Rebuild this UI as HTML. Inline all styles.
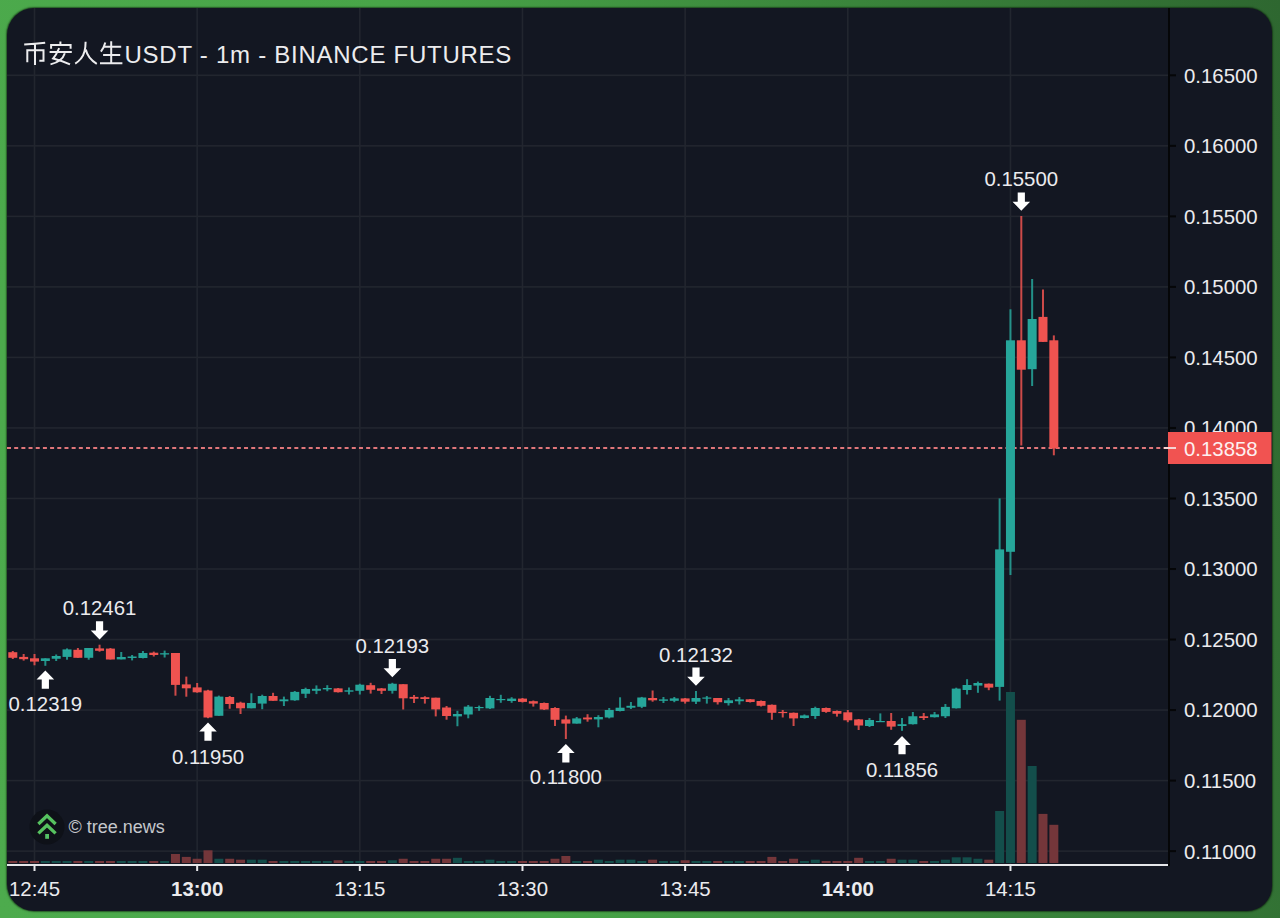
<!DOCTYPE html>
<html><head><meta charset="utf-8"><style>
html,body{margin:0;padding:0;width:1280px;height:918px;overflow:hidden;}
body{background:linear-gradient(80deg,#4dab4d 0%,#48a548 38%,#3b873c 68%,#2e6730 100%);position:relative;}
.panel{position:absolute;left:7px;top:7.5px;width:1265.3px;height:903px;border-radius:27px 24px 25px 27px;box-shadow:0 0 1.5px 1px rgba(5,20,5,0.55);overflow:hidden;background:#131722;}
svg{position:absolute;left:-7px;top:-7.5px;}
.lab{font-family:"Liberation Sans",sans-serif;font-size:20.4px;fill:#ebebee;}
.title{font-family:"Liberation Sans",sans-serif;font-size:24px;fill:#ececee;letter-spacing:0.74px;}
.logo{font-family:"Liberation Sans",sans-serif;font-size:18px;fill:#c5c7cc;}
</style></head><body>
<div class="panel"><svg width="1280" height="918" viewBox="0 0 1280 918">
<rect x="7" y="74.50" width="1161" height="1.6" fill="#22262f"/>
<rect x="7" y="145.03" width="1161" height="1.6" fill="#22262f"/>
<rect x="7" y="215.56" width="1161" height="1.6" fill="#22262f"/>
<rect x="7" y="286.09" width="1161" height="1.6" fill="#22262f"/>
<rect x="7" y="356.62" width="1161" height="1.6" fill="#22262f"/>
<rect x="7" y="427.15" width="1161" height="1.6" fill="#22262f"/>
<rect x="7" y="497.68" width="1161" height="1.6" fill="#22262f"/>
<rect x="7" y="568.21" width="1161" height="1.6" fill="#22262f"/>
<rect x="7" y="638.74" width="1161" height="1.6" fill="#22262f"/>
<rect x="7" y="709.27" width="1161" height="1.6" fill="#22262f"/>
<rect x="7" y="779.80" width="1161" height="1.6" fill="#22262f"/>
<rect x="7" y="850.33" width="1161" height="1.6" fill="#22262f"/>
<rect x="33.70" y="7" width="1.6" height="857" fill="#22262f"/>
<rect x="196.36" y="7" width="1.6" height="857" fill="#22262f"/>
<rect x="359.02" y="7" width="1.6" height="857" fill="#22262f"/>
<rect x="521.68" y="7" width="1.6" height="857" fill="#22262f"/>
<rect x="684.34" y="7" width="1.6" height="857" fill="#22262f"/>
<rect x="847.00" y="7" width="1.6" height="857" fill="#22262f"/>
<rect x="1009.66" y="7" width="1.6" height="857" fill="#22262f"/>
<rect x="8.31" y="861.00" width="9.0" height="2.00" fill="#74363a"/>
<rect x="19.16" y="861.00" width="9.0" height="2.00" fill="#74363a"/>
<rect x="30.00" y="861.00" width="9.0" height="2.00" fill="#74363a"/>
<rect x="40.84" y="861.00" width="9.0" height="2.00" fill="#134e4b"/>
<rect x="51.69" y="861.00" width="9.0" height="2.00" fill="#134e4b"/>
<rect x="62.53" y="861.00" width="9.0" height="2.00" fill="#134e4b"/>
<rect x="73.38" y="861.00" width="9.0" height="2.00" fill="#74363a"/>
<rect x="84.22" y="861.00" width="9.0" height="2.00" fill="#134e4b"/>
<rect x="95.06" y="861.00" width="9.0" height="2.00" fill="#74363a"/>
<rect x="105.91" y="861.00" width="9.0" height="2.00" fill="#74363a"/>
<rect x="116.75" y="861.00" width="9.0" height="2.00" fill="#134e4b"/>
<rect x="127.60" y="861.00" width="9.0" height="2.00" fill="#134e4b"/>
<rect x="138.44" y="861.00" width="9.0" height="2.00" fill="#134e4b"/>
<rect x="149.28" y="861.00" width="9.0" height="2.00" fill="#74363a"/>
<rect x="160.13" y="861.00" width="9.0" height="2.00" fill="#134e4b"/>
<rect x="170.97" y="854.00" width="9.0" height="9.00" fill="#74363a"/>
<rect x="181.82" y="856.90" width="9.0" height="6.10" fill="#74363a"/>
<rect x="192.66" y="858.75" width="9.0" height="4.25" fill="#74363a"/>
<rect x="203.50" y="850.30" width="9.0" height="12.70" fill="#74363a"/>
<rect x="214.35" y="858.75" width="9.0" height="4.25" fill="#134e4b"/>
<rect x="225.19" y="858.75" width="9.0" height="4.25" fill="#74363a"/>
<rect x="236.04" y="859.70" width="9.0" height="3.30" fill="#74363a"/>
<rect x="246.88" y="859.70" width="9.0" height="3.30" fill="#134e4b"/>
<rect x="257.72" y="859.70" width="9.0" height="3.30" fill="#134e4b"/>
<rect x="268.57" y="861.00" width="9.0" height="2.00" fill="#74363a"/>
<rect x="279.41" y="861.00" width="9.0" height="2.00" fill="#134e4b"/>
<rect x="290.26" y="861.00" width="9.0" height="2.00" fill="#134e4b"/>
<rect x="301.10" y="861.00" width="9.0" height="2.00" fill="#134e4b"/>
<rect x="311.94" y="861.00" width="9.0" height="2.00" fill="#134e4b"/>
<rect x="322.79" y="861.00" width="9.0" height="2.00" fill="#134e4b"/>
<rect x="333.63" y="860.25" width="9.0" height="2.75" fill="#74363a"/>
<rect x="344.48" y="861.00" width="9.0" height="2.00" fill="#134e4b"/>
<rect x="355.32" y="861.00" width="9.0" height="2.00" fill="#134e4b"/>
<rect x="366.16" y="861.00" width="9.0" height="2.00" fill="#74363a"/>
<rect x="377.01" y="861.00" width="9.0" height="2.00" fill="#74363a"/>
<rect x="387.85" y="860.25" width="9.0" height="2.75" fill="#134e4b"/>
<rect x="398.70" y="858.75" width="9.0" height="4.25" fill="#74363a"/>
<rect x="409.54" y="861.00" width="9.0" height="2.00" fill="#74363a"/>
<rect x="420.38" y="861.00" width="9.0" height="2.00" fill="#74363a"/>
<rect x="431.23" y="858.75" width="9.0" height="4.25" fill="#74363a"/>
<rect x="442.07" y="858.75" width="9.0" height="4.25" fill="#74363a"/>
<rect x="452.92" y="857.80" width="9.0" height="5.20" fill="#134e4b"/>
<rect x="463.76" y="861.00" width="9.0" height="2.00" fill="#134e4b"/>
<rect x="474.60" y="861.00" width="9.0" height="2.00" fill="#134e4b"/>
<rect x="485.45" y="859.70" width="9.0" height="3.30" fill="#134e4b"/>
<rect x="496.29" y="861.00" width="9.0" height="2.00" fill="#134e4b"/>
<rect x="507.14" y="861.00" width="9.0" height="2.00" fill="#134e4b"/>
<rect x="517.98" y="861.00" width="9.0" height="2.00" fill="#74363a"/>
<rect x="528.82" y="861.00" width="9.0" height="2.00" fill="#74363a"/>
<rect x="539.67" y="861.00" width="9.0" height="2.00" fill="#74363a"/>
<rect x="550.51" y="858.75" width="9.0" height="4.25" fill="#74363a"/>
<rect x="561.36" y="856.00" width="9.0" height="7.00" fill="#74363a"/>
<rect x="572.20" y="861.00" width="9.0" height="2.00" fill="#134e4b"/>
<rect x="583.04" y="861.00" width="9.0" height="2.00" fill="#74363a"/>
<rect x="593.89" y="859.70" width="9.0" height="3.30" fill="#134e4b"/>
<rect x="604.73" y="861.00" width="9.0" height="2.00" fill="#134e4b"/>
<rect x="615.58" y="859.70" width="9.0" height="3.30" fill="#134e4b"/>
<rect x="626.42" y="859.70" width="9.0" height="3.30" fill="#134e4b"/>
<rect x="637.26" y="861.00" width="9.0" height="2.00" fill="#134e4b"/>
<rect x="648.11" y="859.70" width="9.0" height="3.30" fill="#74363a"/>
<rect x="658.95" y="861.00" width="9.0" height="2.00" fill="#134e4b"/>
<rect x="669.80" y="861.00" width="9.0" height="2.00" fill="#134e4b"/>
<rect x="680.64" y="860.25" width="9.0" height="2.75" fill="#74363a"/>
<rect x="691.48" y="861.00" width="9.0" height="2.00" fill="#134e4b"/>
<rect x="702.33" y="861.00" width="9.0" height="2.00" fill="#134e4b"/>
<rect x="713.17" y="861.00" width="9.0" height="2.00" fill="#74363a"/>
<rect x="724.02" y="861.00" width="9.0" height="2.00" fill="#134e4b"/>
<rect x="734.86" y="861.00" width="9.0" height="2.00" fill="#134e4b"/>
<rect x="745.70" y="861.00" width="9.0" height="2.00" fill="#74363a"/>
<rect x="756.55" y="861.00" width="9.0" height="2.00" fill="#74363a"/>
<rect x="767.39" y="856.90" width="9.0" height="6.10" fill="#74363a"/>
<rect x="778.24" y="861.00" width="9.0" height="2.00" fill="#74363a"/>
<rect x="789.08" y="858.75" width="9.0" height="4.25" fill="#74363a"/>
<rect x="799.92" y="861.00" width="9.0" height="2.00" fill="#134e4b"/>
<rect x="810.77" y="859.70" width="9.0" height="3.30" fill="#134e4b"/>
<rect x="821.61" y="861.00" width="9.0" height="2.00" fill="#74363a"/>
<rect x="832.46" y="861.00" width="9.0" height="2.00" fill="#74363a"/>
<rect x="843.30" y="861.00" width="9.0" height="2.00" fill="#74363a"/>
<rect x="854.14" y="857.80" width="9.0" height="5.20" fill="#74363a"/>
<rect x="864.99" y="861.00" width="9.0" height="2.00" fill="#134e4b"/>
<rect x="875.83" y="861.00" width="9.0" height="2.00" fill="#134e4b"/>
<rect x="886.68" y="858.75" width="9.0" height="4.25" fill="#74363a"/>
<rect x="897.52" y="859.70" width="9.0" height="3.30" fill="#134e4b"/>
<rect x="908.36" y="859.70" width="9.0" height="3.30" fill="#134e4b"/>
<rect x="919.21" y="861.00" width="9.0" height="2.00" fill="#74363a"/>
<rect x="930.05" y="861.00" width="9.0" height="2.00" fill="#134e4b"/>
<rect x="940.90" y="859.70" width="9.0" height="3.30" fill="#134e4b"/>
<rect x="951.74" y="857.30" width="9.0" height="5.70" fill="#134e4b"/>
<rect x="962.58" y="857.30" width="9.0" height="5.70" fill="#134e4b"/>
<rect x="973.43" y="858.75" width="9.0" height="4.25" fill="#134e4b"/>
<rect x="984.27" y="859.70" width="9.0" height="3.30" fill="#74363a"/>
<rect x="995.12" y="811.00" width="9.0" height="52.00" fill="#134e4b"/>
<rect x="1005.96" y="692.00" width="9.0" height="171.00" fill="#134e4b"/>
<rect x="1016.80" y="719.80" width="9.0" height="143.20" fill="#74363a"/>
<rect x="1027.65" y="766.00" width="9.0" height="97.00" fill="#134e4b"/>
<rect x="1038.49" y="813.90" width="9.0" height="49.10" fill="#74363a"/>
<rect x="1049.34" y="824.80" width="9.0" height="38.20" fill="#74363a"/>
<line x1="7" y1="448" x2="1164" y2="448" stroke="#e0767a" stroke-width="2" stroke-dasharray="4 3.183"/>
<rect x="11.81" y="651.00" width="2.0" height="8.00" fill="#ef5350" fill-opacity="0.85"/>
<rect x="8.31" y="652.20" width="9.0" height="5.60" fill="#ef5350"/>
<rect x="22.66" y="654.00" width="2.0" height="6.60" fill="#ef5350" fill-opacity="0.85"/>
<rect x="19.16" y="656.90" width="9.0" height="2.30" fill="#ef5350"/>
<rect x="33.50" y="654.00" width="2.0" height="11.30" fill="#ef5350" fill-opacity="0.85"/>
<rect x="30.00" y="658.30" width="9.0" height="3.30" fill="#ef5350"/>
<rect x="44.34" y="658.30" width="2.0" height="7.50" fill="#26a69a" fill-opacity="0.85"/>
<rect x="40.84" y="658.30" width="9.0" height="2.70" fill="#26a69a"/>
<rect x="55.19" y="654.50" width="2.0" height="6.50" fill="#26a69a" fill-opacity="0.85"/>
<rect x="51.69" y="656.00" width="9.0" height="2.75" fill="#26a69a"/>
<rect x="66.03" y="648.40" width="2.0" height="11.30" fill="#26a69a" fill-opacity="0.85"/>
<rect x="62.53" y="649.40" width="9.0" height="7.50" fill="#26a69a"/>
<rect x="76.88" y="648.00" width="2.0" height="9.80" fill="#ef5350" fill-opacity="0.85"/>
<rect x="73.38" y="649.80" width="9.0" height="8.00" fill="#ef5350"/>
<rect x="87.72" y="648.00" width="2.0" height="11.70" fill="#26a69a" fill-opacity="0.85"/>
<rect x="84.22" y="648.00" width="9.0" height="9.80" fill="#26a69a"/>
<rect x="98.56" y="644.70" width="2.0" height="7.00" fill="#ef5350" fill-opacity="0.85"/>
<rect x="95.06" y="648.40" width="9.0" height="2.40" fill="#ef5350"/>
<rect x="109.41" y="648.00" width="2.0" height="11.50" fill="#ef5350" fill-opacity="0.85"/>
<rect x="105.91" y="648.60" width="9.0" height="10.90" fill="#ef5350"/>
<rect x="120.25" y="652.00" width="2.0" height="7.40" fill="#26a69a" fill-opacity="0.85"/>
<rect x="116.75" y="657.00" width="9.0" height="2.40" fill="#26a69a"/>
<rect x="131.10" y="655.00" width="2.0" height="5.40" fill="#26a69a" fill-opacity="0.85"/>
<rect x="127.60" y="656.50" width="9.0" height="1.50" fill="#26a69a"/>
<rect x="141.94" y="651.00" width="2.0" height="7.40" fill="#26a69a" fill-opacity="0.85"/>
<rect x="138.44" y="653.00" width="9.0" height="5.00" fill="#26a69a"/>
<rect x="152.78" y="651.60" width="2.0" height="4.90" fill="#ef5350" fill-opacity="0.85"/>
<rect x="149.28" y="652.70" width="9.0" height="2.30" fill="#ef5350"/>
<rect x="163.63" y="650.60" width="2.0" height="6.90" fill="#26a69a" fill-opacity="0.85"/>
<rect x="160.13" y="653.20" width="9.0" height="1.30" fill="#26a69a"/>
<rect x="174.47" y="653.00" width="2.0" height="42.70" fill="#ef5350" fill-opacity="0.85"/>
<rect x="170.97" y="653.00" width="9.0" height="31.90" fill="#ef5350"/>
<rect x="185.32" y="676.60" width="2.0" height="20.10" fill="#ef5350" fill-opacity="0.85"/>
<rect x="181.82" y="684.40" width="9.0" height="3.90" fill="#ef5350"/>
<rect x="196.16" y="683.00" width="2.0" height="9.70" fill="#ef5350" fill-opacity="0.85"/>
<rect x="192.66" y="687.40" width="9.0" height="4.90" fill="#ef5350"/>
<rect x="207.00" y="689.80" width="2.0" height="28.40" fill="#ef5350" fill-opacity="0.85"/>
<rect x="203.50" y="690.50" width="9.0" height="27.00" fill="#ef5350"/>
<rect x="217.85" y="695.60" width="2.0" height="20.20" fill="#26a69a" fill-opacity="0.85"/>
<rect x="214.35" y="696.60" width="9.0" height="19.20" fill="#26a69a"/>
<rect x="228.69" y="696.00" width="2.0" height="12.75" fill="#ef5350" fill-opacity="0.85"/>
<rect x="225.19" y="697.00" width="9.0" height="7.00" fill="#ef5350"/>
<rect x="239.54" y="701.70" width="2.0" height="12.30" fill="#ef5350" fill-opacity="0.85"/>
<rect x="236.04" y="702.70" width="9.0" height="5.60" fill="#ef5350"/>
<rect x="250.38" y="693.30" width="2.0" height="15.00" fill="#26a69a" fill-opacity="0.85"/>
<rect x="246.88" y="703.00" width="9.0" height="5.30" fill="#26a69a"/>
<rect x="261.22" y="694.70" width="2.0" height="14.50" fill="#26a69a" fill-opacity="0.85"/>
<rect x="257.72" y="696.00" width="9.0" height="7.60" fill="#26a69a"/>
<rect x="272.07" y="692.80" width="2.0" height="8.00" fill="#ef5350" fill-opacity="0.85"/>
<rect x="268.57" y="696.00" width="9.0" height="4.80" fill="#ef5350"/>
<rect x="282.91" y="696.60" width="2.0" height="9.40" fill="#26a69a" fill-opacity="0.85"/>
<rect x="279.41" y="699.40" width="9.0" height="1.85" fill="#26a69a"/>
<rect x="293.76" y="691.00" width="2.0" height="9.80" fill="#26a69a" fill-opacity="0.85"/>
<rect x="290.26" y="691.90" width="9.0" height="8.40" fill="#26a69a"/>
<rect x="304.60" y="687.70" width="2.0" height="10.30" fill="#26a69a" fill-opacity="0.85"/>
<rect x="301.10" y="689.00" width="9.0" height="4.75" fill="#26a69a"/>
<rect x="315.44" y="685.40" width="2.0" height="8.70" fill="#26a69a" fill-opacity="0.85"/>
<rect x="311.94" y="688.80" width="9.0" height="2.00" fill="#26a69a"/>
<rect x="326.29" y="685.20" width="2.0" height="6.05" fill="#26a69a" fill-opacity="0.85"/>
<rect x="322.79" y="688.00" width="9.0" height="1.40" fill="#26a69a"/>
<rect x="337.13" y="688.00" width="2.0" height="4.50" fill="#ef5350" fill-opacity="0.85"/>
<rect x="333.63" y="688.40" width="9.0" height="3.80" fill="#ef5350"/>
<rect x="347.98" y="687.50" width="2.0" height="7.00" fill="#26a69a" fill-opacity="0.85"/>
<rect x="344.48" y="690.30" width="9.0" height="1.40" fill="#26a69a"/>
<rect x="358.82" y="683.75" width="2.0" height="10.75" fill="#26a69a" fill-opacity="0.85"/>
<rect x="355.32" y="684.70" width="9.0" height="6.10" fill="#26a69a"/>
<rect x="369.66" y="682.80" width="2.0" height="10.80" fill="#ef5350" fill-opacity="0.85"/>
<rect x="366.16" y="685.20" width="9.0" height="4.60" fill="#ef5350"/>
<rect x="380.51" y="688.00" width="2.0" height="6.00" fill="#ef5350" fill-opacity="0.85"/>
<rect x="377.01" y="688.40" width="9.0" height="2.40" fill="#ef5350"/>
<rect x="391.35" y="682.80" width="2.0" height="10.80" fill="#26a69a" fill-opacity="0.85"/>
<rect x="387.85" y="683.75" width="9.0" height="7.05" fill="#26a69a"/>
<rect x="402.20" y="684.20" width="2.0" height="25.30" fill="#ef5350" fill-opacity="0.85"/>
<rect x="398.70" y="684.20" width="9.0" height="14.10" fill="#ef5350"/>
<rect x="413.04" y="695.00" width="2.0" height="8.00" fill="#ef5350" fill-opacity="0.85"/>
<rect x="409.54" y="696.90" width="9.0" height="1.85" fill="#ef5350"/>
<rect x="423.88" y="696.25" width="2.0" height="7.35" fill="#ef5350" fill-opacity="0.85"/>
<rect x="420.38" y="697.20" width="9.0" height="1.80" fill="#ef5350"/>
<rect x="434.73" y="697.70" width="2.0" height="18.70" fill="#ef5350" fill-opacity="0.85"/>
<rect x="431.23" y="697.70" width="9.0" height="11.70" fill="#ef5350"/>
<rect x="445.57" y="706.00" width="2.0" height="13.70" fill="#ef5350" fill-opacity="0.85"/>
<rect x="442.07" y="707.50" width="9.0" height="8.50" fill="#ef5350"/>
<rect x="456.42" y="710.80" width="2.0" height="15.45" fill="#26a69a" fill-opacity="0.85"/>
<rect x="452.92" y="714.00" width="9.0" height="2.40" fill="#26a69a"/>
<rect x="467.26" y="705.00" width="2.0" height="13.30" fill="#26a69a" fill-opacity="0.85"/>
<rect x="463.76" y="706.60" width="9.0" height="7.90" fill="#26a69a"/>
<rect x="478.10" y="705.60" width="2.0" height="5.20" fill="#26a69a" fill-opacity="0.85"/>
<rect x="474.60" y="707.00" width="9.0" height="1.20" fill="#26a69a"/>
<rect x="488.95" y="695.80" width="2.0" height="13.20" fill="#26a69a" fill-opacity="0.85"/>
<rect x="485.45" y="698.00" width="9.0" height="10.40" fill="#26a69a"/>
<rect x="499.79" y="694.80" width="2.0" height="8.00" fill="#26a69a" fill-opacity="0.85"/>
<rect x="496.29" y="699.00" width="9.0" height="1.20" fill="#26a69a"/>
<rect x="510.64" y="697.20" width="2.0" height="5.60" fill="#26a69a" fill-opacity="0.85"/>
<rect x="507.14" y="698.60" width="9.0" height="2.40" fill="#26a69a"/>
<rect x="521.48" y="698.00" width="2.0" height="4.50" fill="#ef5350" fill-opacity="0.85"/>
<rect x="517.98" y="698.60" width="9.0" height="3.30" fill="#ef5350"/>
<rect x="532.32" y="700.50" width="2.0" height="6.10" fill="#ef5350" fill-opacity="0.85"/>
<rect x="528.82" y="701.20" width="9.0" height="2.40" fill="#ef5350"/>
<rect x="543.17" y="702.50" width="2.0" height="7.50" fill="#ef5350" fill-opacity="0.85"/>
<rect x="539.67" y="703.00" width="9.0" height="6.50" fill="#ef5350"/>
<rect x="554.01" y="707.20" width="2.0" height="18.80" fill="#ef5350" fill-opacity="0.85"/>
<rect x="550.51" y="708.00" width="9.0" height="11.80" fill="#ef5350"/>
<rect x="564.86" y="715.60" width="2.0" height="23.40" fill="#ef5350" fill-opacity="0.85"/>
<rect x="561.36" y="719.40" width="9.0" height="4.20" fill="#ef5350"/>
<rect x="575.70" y="717.00" width="2.0" height="6.60" fill="#26a69a" fill-opacity="0.85"/>
<rect x="572.20" y="718.40" width="9.0" height="5.20" fill="#26a69a"/>
<rect x="586.54" y="714.20" width="2.0" height="7.50" fill="#ef5350" fill-opacity="0.85"/>
<rect x="583.04" y="717.50" width="9.0" height="1.90" fill="#ef5350"/>
<rect x="597.39" y="715.20" width="2.0" height="12.10" fill="#26a69a" fill-opacity="0.85"/>
<rect x="593.89" y="717.00" width="9.0" height="2.40" fill="#26a69a"/>
<rect x="608.23" y="708.00" width="2.0" height="10.40" fill="#26a69a" fill-opacity="0.85"/>
<rect x="604.73" y="710.00" width="9.0" height="7.50" fill="#26a69a"/>
<rect x="619.08" y="697.30" width="2.0" height="14.10" fill="#26a69a" fill-opacity="0.85"/>
<rect x="615.58" y="707.70" width="9.0" height="3.30" fill="#26a69a"/>
<rect x="629.92" y="702.00" width="2.0" height="7.00" fill="#26a69a" fill-opacity="0.85"/>
<rect x="626.42" y="705.80" width="9.0" height="1.90" fill="#26a69a"/>
<rect x="640.76" y="696.90" width="2.0" height="11.20" fill="#26a69a" fill-opacity="0.85"/>
<rect x="637.26" y="697.50" width="9.0" height="9.30" fill="#26a69a"/>
<rect x="651.61" y="690.50" width="2.0" height="11.20" fill="#ef5350" fill-opacity="0.85"/>
<rect x="648.11" y="698.00" width="9.0" height="2.30" fill="#ef5350"/>
<rect x="662.45" y="697.00" width="2.0" height="6.00" fill="#26a69a" fill-opacity="0.85"/>
<rect x="658.95" y="699.40" width="9.0" height="1.40" fill="#26a69a"/>
<rect x="673.30" y="697.00" width="2.0" height="5.20" fill="#26a69a" fill-opacity="0.85"/>
<rect x="669.80" y="698.40" width="9.0" height="2.40" fill="#26a69a"/>
<rect x="684.14" y="698.00" width="2.0" height="5.60" fill="#ef5350" fill-opacity="0.85"/>
<rect x="680.64" y="698.40" width="9.0" height="3.30" fill="#ef5350"/>
<rect x="694.98" y="691.00" width="2.0" height="13.00" fill="#26a69a" fill-opacity="0.85"/>
<rect x="691.48" y="698.00" width="9.0" height="3.70" fill="#26a69a"/>
<rect x="705.83" y="696.00" width="2.0" height="7.60" fill="#26a69a" fill-opacity="0.85"/>
<rect x="702.33" y="697.50" width="9.0" height="1.20" fill="#26a69a"/>
<rect x="716.67" y="698.00" width="2.0" height="6.50" fill="#ef5350" fill-opacity="0.85"/>
<rect x="713.17" y="698.00" width="9.0" height="4.20" fill="#ef5350"/>
<rect x="727.52" y="698.00" width="2.0" height="7.50" fill="#26a69a" fill-opacity="0.85"/>
<rect x="724.02" y="700.30" width="9.0" height="2.80" fill="#26a69a"/>
<rect x="738.36" y="697.00" width="2.0" height="7.50" fill="#26a69a" fill-opacity="0.85"/>
<rect x="734.86" y="699.40" width="9.0" height="1.85" fill="#26a69a"/>
<rect x="749.20" y="699.00" width="2.0" height="3.50" fill="#ef5350" fill-opacity="0.85"/>
<rect x="745.70" y="699.30" width="9.0" height="2.70" fill="#ef5350"/>
<rect x="760.05" y="700.50" width="2.0" height="6.00" fill="#ef5350" fill-opacity="0.85"/>
<rect x="756.55" y="701.00" width="9.0" height="4.80" fill="#ef5350"/>
<rect x="770.89" y="704.50" width="2.0" height="15.30" fill="#ef5350" fill-opacity="0.85"/>
<rect x="767.39" y="704.80" width="9.0" height="8.00" fill="#ef5350"/>
<rect x="781.74" y="710.00" width="2.0" height="7.50" fill="#ef5350" fill-opacity="0.85"/>
<rect x="778.24" y="711.90" width="9.0" height="1.20" fill="#ef5350"/>
<rect x="792.58" y="712.50" width="2.0" height="13.50" fill="#ef5350" fill-opacity="0.85"/>
<rect x="789.08" y="712.80" width="9.0" height="5.60" fill="#ef5350"/>
<rect x="803.42" y="714.50" width="2.0" height="4.00" fill="#26a69a" fill-opacity="0.85"/>
<rect x="799.92" y="715.40" width="9.0" height="2.60" fill="#26a69a"/>
<rect x="814.27" y="706.70" width="2.0" height="12.20" fill="#26a69a" fill-opacity="0.85"/>
<rect x="810.77" y="708.00" width="9.0" height="8.00" fill="#26a69a"/>
<rect x="825.11" y="707.50" width="2.0" height="5.30" fill="#ef5350" fill-opacity="0.85"/>
<rect x="821.61" y="708.00" width="9.0" height="3.90" fill="#ef5350"/>
<rect x="835.96" y="710.50" width="2.0" height="6.10" fill="#ef5350" fill-opacity="0.85"/>
<rect x="832.46" y="711.00" width="9.0" height="2.75" fill="#ef5350"/>
<rect x="846.80" y="710.00" width="2.0" height="12.20" fill="#ef5350" fill-opacity="0.85"/>
<rect x="843.30" y="712.30" width="9.0" height="8.00" fill="#ef5350"/>
<rect x="857.64" y="719.00" width="2.0" height="11.00" fill="#ef5350" fill-opacity="0.85"/>
<rect x="854.14" y="719.40" width="9.0" height="6.10" fill="#ef5350"/>
<rect x="868.49" y="718.00" width="2.0" height="9.00" fill="#26a69a" fill-opacity="0.85"/>
<rect x="864.99" y="720.00" width="9.0" height="6.00" fill="#26a69a"/>
<rect x="879.33" y="713.40" width="2.0" height="8.50" fill="#26a69a" fill-opacity="0.85"/>
<rect x="875.83" y="721.00" width="9.0" height="1.20" fill="#26a69a"/>
<rect x="890.18" y="713.00" width="2.0" height="16.80" fill="#ef5350" fill-opacity="0.85"/>
<rect x="886.68" y="721.00" width="9.0" height="5.60" fill="#ef5350"/>
<rect x="901.02" y="718.00" width="2.0" height="12.80" fill="#26a69a" fill-opacity="0.85"/>
<rect x="897.52" y="724.20" width="9.0" height="1.80" fill="#26a69a"/>
<rect x="911.86" y="712.00" width="2.0" height="12.50" fill="#26a69a" fill-opacity="0.85"/>
<rect x="908.36" y="716.25" width="9.0" height="7.95" fill="#26a69a"/>
<rect x="922.71" y="713.00" width="2.0" height="7.00" fill="#ef5350" fill-opacity="0.85"/>
<rect x="919.21" y="716.25" width="9.0" height="1.75" fill="#ef5350"/>
<rect x="933.55" y="712.00" width="2.0" height="5.50" fill="#26a69a" fill-opacity="0.85"/>
<rect x="930.05" y="714.40" width="9.0" height="2.80" fill="#26a69a"/>
<rect x="944.40" y="704.00" width="2.0" height="14.00" fill="#26a69a" fill-opacity="0.85"/>
<rect x="940.90" y="706.90" width="9.0" height="9.35" fill="#26a69a"/>
<rect x="955.24" y="687.70" width="2.0" height="20.80" fill="#26a69a" fill-opacity="0.85"/>
<rect x="951.74" y="688.60" width="9.0" height="19.70" fill="#26a69a"/>
<rect x="966.08" y="679.20" width="2.0" height="15.30" fill="#26a69a" fill-opacity="0.85"/>
<rect x="962.58" y="685.00" width="9.0" height="5.00" fill="#26a69a"/>
<rect x="976.93" y="681.60" width="2.0" height="11.20" fill="#26a69a" fill-opacity="0.85"/>
<rect x="973.43" y="683.00" width="9.0" height="2.60" fill="#26a69a"/>
<rect x="987.77" y="683.50" width="2.0" height="6.70" fill="#ef5350" fill-opacity="0.85"/>
<rect x="984.27" y="683.70" width="9.0" height="3.90" fill="#ef5350"/>
<rect x="998.62" y="498.40" width="2.0" height="202.20" fill="#26a69a" fill-opacity="0.85"/>
<rect x="995.12" y="549.40" width="9.0" height="137.50" fill="#26a69a"/>
<rect x="1009.46" y="309.30" width="2.0" height="265.70" fill="#26a69a" fill-opacity="0.85"/>
<rect x="1005.96" y="340.30" width="9.0" height="211.50" fill="#26a69a"/>
<rect x="1020.30" y="216.00" width="2.0" height="229.50" fill="#ef5350" fill-opacity="0.85"/>
<rect x="1016.80" y="340.30" width="9.0" height="29.40" fill="#ef5350"/>
<rect x="1031.15" y="279.00" width="2.0" height="107.00" fill="#26a69a" fill-opacity="0.85"/>
<rect x="1027.65" y="319.00" width="9.0" height="50.20" fill="#26a69a"/>
<rect x="1041.99" y="289.50" width="2.0" height="52.40" fill="#ef5350" fill-opacity="0.85"/>
<rect x="1038.49" y="316.90" width="9.0" height="25.00" fill="#ef5350"/>
<rect x="1052.84" y="335.40" width="2.0" height="119.90" fill="#ef5350" fill-opacity="0.85"/>
<rect x="1049.34" y="340.30" width="9.0" height="108.10" fill="#ef5350"/>
<rect x="7" y="864" width="1163" height="2" fill="#e6e7ea"/>
<rect x="1168" y="7" width="2" height="859" fill="#050608"/>
<rect x="33.50" y="866" width="2" height="5" fill="#e6e7ea"/>
<rect x="196.16" y="866" width="2" height="5" fill="#e6e7ea"/>
<rect x="358.82" y="866" width="2" height="5" fill="#e6e7ea"/>
<rect x="521.48" y="866" width="2" height="5" fill="#e6e7ea"/>
<rect x="684.14" y="866" width="2" height="5" fill="#e6e7ea"/>
<rect x="846.80" y="866" width="2" height="5" fill="#e6e7ea"/>
<rect x="1009.46" y="866" width="2" height="5" fill="#e6e7ea"/>
<rect x="1170" y="74.30" width="6" height="2" fill="#050608"/>
<rect x="1170" y="144.83" width="6" height="2" fill="#050608"/>
<rect x="1170" y="215.36" width="6" height="2" fill="#050608"/>
<rect x="1170" y="285.89" width="6" height="2" fill="#050608"/>
<rect x="1170" y="356.42" width="6" height="2" fill="#050608"/>
<rect x="1170" y="426.95" width="6" height="2" fill="#050608"/>
<rect x="1170" y="497.48" width="6" height="2" fill="#050608"/>
<rect x="1170" y="568.01" width="6" height="2" fill="#050608"/>
<rect x="1170" y="638.54" width="6" height="2" fill="#050608"/>
<rect x="1170" y="709.07" width="6" height="2" fill="#050608"/>
<rect x="1170" y="779.60" width="6" height="2" fill="#050608"/>
<rect x="1170" y="850.13" width="6" height="2" fill="#050608"/>
<path d="M95.96 621.30H103.16V630.60H108.36L99.56 639.60L90.76 630.60H95.96Z" fill="#ffffff"/>
<path d="M41.74 688.80H48.94V679.50H54.14L45.34 670.50L36.54 679.50H41.74Z" fill="#ffffff"/>
<path d="M204.40 740.80H211.60V731.50H216.80L208.00 722.50L199.20 731.50H204.40Z" fill="#ffffff"/>
<path d="M388.75 659.00H395.95V668.30H401.15L392.35 677.30L383.55 668.30H388.75Z" fill="#ffffff"/>
<path d="M562.26 762.40H569.46V753.10H574.66L565.86 744.10L557.06 753.10H562.26Z" fill="#ffffff"/>
<path d="M692.38 667.40H699.58V676.70H704.78L695.98 685.70L687.18 676.70H692.38Z" fill="#ffffff"/>
<path d="M898.42 754.30H905.62V745.00H910.82L902.02 736.00L893.22 745.00H898.42Z" fill="#ffffff"/>
<path d="M1017.70 192.40H1024.90V201.70H1030.10L1021.30 210.70L1012.50 201.70H1017.70Z" fill="#ffffff"/>

<circle cx="47" cy="827" r="17.5" fill="#0e1118"/>
<path d="M38.4 824 L47 815.8 L55.6 824" fill="none" stroke="#58c35a" stroke-width="3.3" stroke-linejoin="miter"/>
<path d="M38.4 833.4 L47 825.2 L55.6 833.4" fill="none" stroke="#58c35a" stroke-width="3.3" stroke-linejoin="miter"/>
<path d="M39.2 823.2 L47 816.1 L54.8 823.2 M39.2 832.6 L47 825.5 L54.8 832.6" fill="none" stroke="#3fb0b8" stroke-width="0.9" stroke-opacity="0.55" stroke-dasharray="1.6 2.2"/>
<rect x="45.2" y="834" width="3.8" height="4.8" fill="#58c35a"/>
<rect x="46.6" y="834.6" width="1" height="3.6" fill="#3fb0b8" fill-opacity="0.5"/>

<path d="M24.2 44.6 C31 44.2 38 43.6 45.2 42.7 M35 44 V65 M27.3 62.2 V50.2 H43.5 V60.8 H39.3 M60.4 41.5 V44.6 M51.1 48.8 V44.9 H70.6 V48.8 M49.6 52 H71.8 M59.2 48.2 C57.5 52 55.5 55.8 53.2 58.5 C59 60 65 62 70 64.4 M64.8 53.2 C63 59 58 62.5 50.5 64.4 M85.6 41.8 C85.6 48 85 54 81 58.5 C79 61 77 62.5 75.2 63.6 M85.8 49.5 C87 55 90.5 60 96.8 63.8 M105.3 42.4 C104.5 45.5 103 49 100.9 51.6 M104.1 46.7 H121.2 M111.2 41.3 V63 M103.1 55.1 H120.2 M100 63.2 H122.4" fill="none" stroke="#ececee" stroke-width="2.0" stroke-linecap="butt" stroke-linejoin="miter"/>
<text x="99.56" y="615.40" text-anchor="middle" class="lab">0.12461</text>
<text x="45.34" y="711.20" text-anchor="middle" class="lab">0.12319</text>
<text x="208.00" y="763.50" text-anchor="middle" class="lab">0.11950</text>
<text x="392.35" y="653.40" text-anchor="middle" class="lab">0.12193</text>
<text x="565.86" y="784.30" text-anchor="middle" class="lab">0.11800</text>
<text x="695.98" y="661.50" text-anchor="middle" class="lab">0.12132</text>
<text x="902.02" y="777.00" text-anchor="middle" class="lab">0.11856</text>
<text x="1021.30" y="186.10" text-anchor="middle" class="lab">0.15500</text>
<text x="1184" y="82.70" class="lab">0.16500</text>
<text x="1184" y="153.23" class="lab">0.16000</text>
<text x="1184" y="223.76" class="lab">0.15500</text>
<text x="1184" y="294.29" class="lab">0.15000</text>
<text x="1184" y="364.82" class="lab">0.14500</text>
<text x="1184" y="435.35" class="lab">0.14000</text>
<text x="1184" y="505.88" class="lab">0.13500</text>
<text x="1184" y="576.41" class="lab">0.13000</text>
<text x="1184" y="646.94" class="lab">0.12500</text>
<text x="1184" y="717.47" class="lab">0.12000</text>
<text x="1184" y="788.00" class="lab">0.11500</text>
<text x="1184" y="858.53" class="lab">0.11000</text>
<rect x="1168" y="432" width="103.5" height="32" fill="#f15351"/>
<rect x="1164" y="447" width="12" height="2" fill="#f4d4d4"/>
<text x="1184" y="455.7" class="lab" style="fill:#fdf0f0">0.13858</text>
<text x="34.50" y="896" text-anchor="middle" class="lab">12:45</text>
<text x="197.16" y="896" text-anchor="middle" class="lab" font-weight="bold">13:00</text>
<text x="359.82" y="896" text-anchor="middle" class="lab">13:15</text>
<text x="522.48" y="896" text-anchor="middle" class="lab">13:30</text>
<text x="685.14" y="896" text-anchor="middle" class="lab">13:45</text>
<text x="847.80" y="896" text-anchor="middle" class="lab" font-weight="bold">14:00</text>
<text x="1010.46" y="896" text-anchor="middle" class="lab">14:15</text>
<text x="124.5" y="63" class="title">USDT - 1m - BINANCE FUTURES</text>
<text x="68.5" y="833.1" class="logo">© tree.news</text>
</svg></div>
</body></html>
